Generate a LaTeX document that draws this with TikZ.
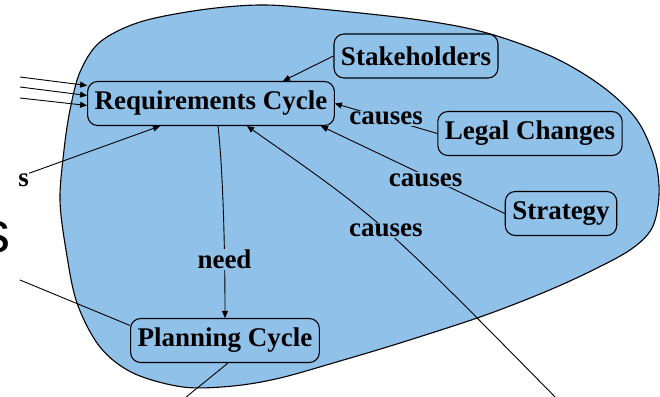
\documentclass[tikz,border=0pt]{standalone}
\usepackage{fontspec}
\setmainfont{Liberation Serif}
\newfontfamily\bigsans{Liberation Sans}
\usetikzlibrary{calc,arrows.meta}
\definecolor{blobblue}{RGB}{143,193,233}
\begin{document}
\begin{tikzpicture}[x=1pt,y=-1pt,
  box/.style={draw=black,fill=blobblue,line width=1.1pt,rounded corners=10pt,inner xsep=7pt,minimum height=44pt,font=\fontsize{27}{30}\selectfont\bfseries},
  lbl/.style={fill=blobblue,inner sep=1pt,font=\fontsize{27}{30}\selectfont\bfseries},
  conn/.style={line width=0.9pt,draw=black},
  arr/.style={conn,-{Triangle[length=7pt,width=6pt]}}]
\useasboundingbox (0,0) rectangle (660,396);
\clip (0,0) rectangle (660,396);
% region
\draw[fill=blobblue,line width=1.1pt] plot[smooth cycle,tension=0.55] coordinates {
 (60,200) (64,150) (70,110) (80,72) (100,42) (140,22) (200,10) (260,5) (320,9)
 (420,20) (487,33) (553,57) (603,87) (637,120) (655,160) (659,195) (652,228)
 (630,250) (587,273) (540,294) (480,317) (400,343) (340,361) (280,378)
 (233,386) (183,387) (133,373) (100,347) (77,303) (66,250)};
% nodes
\node[box] (req) at (211,103.5) {Requirements Cycle};
\node[box] (stake) at (416,56) {Stakeholders};
\node[box] (legal) at (530,133.5) {Legal Changes};
\node[box] (strat) at (561,213.5) {Strategy};
\node[box] (plan) at (225,340.5) {Planning Cycle};
\node[font=\fontsize{27}{30}\selectfont\bfseries,inner sep=0pt,anchor=east] (sl) at (29,180) {s};
\node[font=\bigsans\fontsize{58}{60}\selectfont,inner sep=0pt,anchor=east] (bs) at (11,237) {s};
% free ends and control points
\coordinate (in1) at (20,77);
\coordinate (in2) at (20,87);
\coordinate (in3) at (20,98);
\coordinate (pl) at (20,280);
\coordinate (pd) at (180,402);
\coordinate (cb) at (560,402);
\coordinate (cbc) at (380,219);
\coordinate (nc1) at (223,170);
\coordinate (nc2) at (225,250);
% connectors
\draw[arr] (in1) -- ($(req.west)+(0,-18)$);
\draw[arr] (in2) -- ($(req.west)+(0,-8)$);
\draw[arr] (in3) -- ($(req.west)+(0,2)$);
\draw[arr] (sl.north east) -- ($(req.south)+(-51,0)$);
\draw[arr] (stake.west) -- ($(req.north)+(72,0)$);
\draw[arr] (legal.west) -- node[lbl]{causes} (req.east);
\draw[arr] (strat.west) -- node[lbl,pos=0.43,yshift=-4pt]{causes} ($(req.south east)+(-14,0)$);
\draw[arr] (cb) .. controls (cbc) .. node[lbl]{causes} ($(req.south)+(36,0)$);
\draw[arr] ($(req.south)+(7,0)$) .. controls (nc1) and (nc2) .. node[lbl,pos=0.72]{need} (plan.north);
\draw[conn] (pl) -- ($(plan.west)+(0,-15)$);
\draw[conn] ($(plan.south)+(3,0)$) -- (pd);
\end{tikzpicture}
\end{document}
